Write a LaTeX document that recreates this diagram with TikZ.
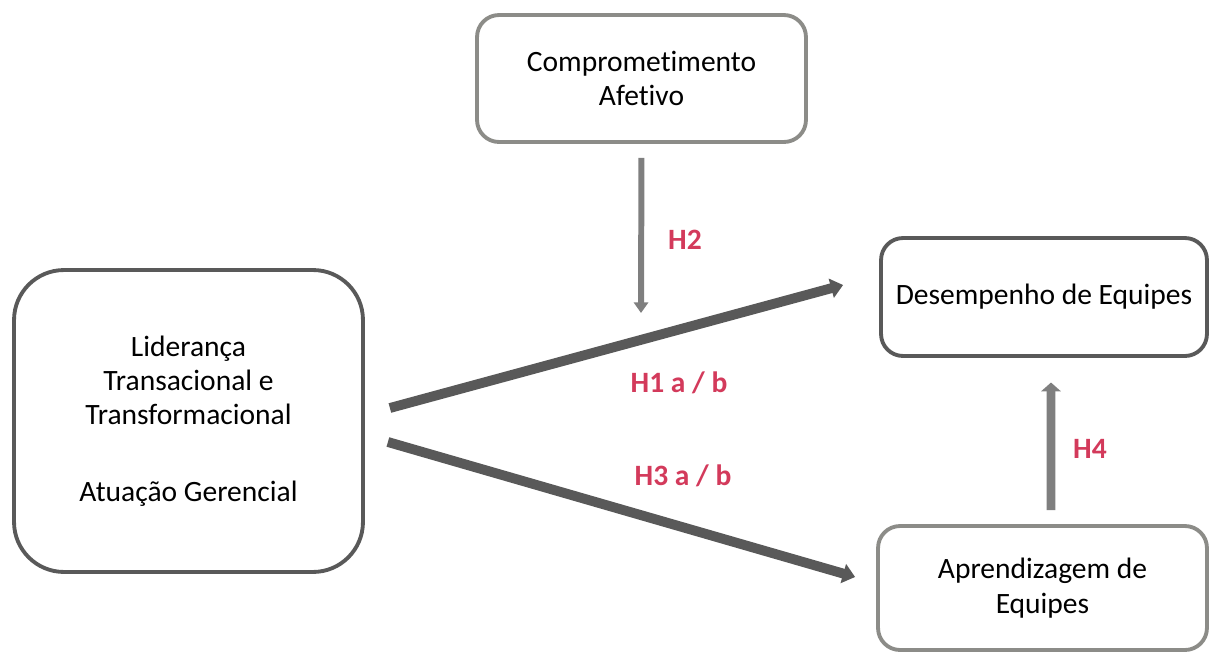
\documentclass[tikz,border=0pt]{standalone}
\usepackage{fontspec}
\setmainfont{Carlito}[Ligatures=NoCommon]
\usetikzlibrary{arrows.meta,calc}
\definecolor{darkline}{HTML}{595959}
\definecolor{midline}{HTML}{7F7F7F}
\definecolor{lightline}{HTML}{8C8C88}
\definecolor{hypred}{HTML}{D33A5B}

\tikzset{
  box/.style={draw,rounded corners=0.44cm,line width=2.2pt,align=center,
              font=\fontsize{16.8}{19.6}\selectfont},
  hyp/.style={text=hypred,font=\fontsize{16.8}{19}\selectfont\bfseries},
  thickarrow/.style={darkline,line width=5.6pt,
              -{Triangle[length=7pt 0,width=11pt 0]}},
  thinarrow/.style={midline,line width=3.4pt,
              -{Triangle[length=6pt 0,width=8pt 0]}},
}

\begin{document}
\begin{tikzpicture}[x=0.02cm,y=-0.02cm]
  \useasboundingbox (0,0) rectangle (1211,653);

  % boxes
  \node[box,lightline,text=black,minimum width=6.58cm,minimum height=2.54cm] (comp) at (641.5,78.5) {Comprometimento\\Afetivo};
  \node[box,darkline,text=black,minimum width=6.52cm,minimum height=2.36cm] (des) at (1044,297) {Desempenho de Equipes};
  \node[box,lightline,text=black,minimum width=6.58cm,minimum height=2.48cm] (apr) at (1042.5,588) {Aprendizagem de\\Equipes};
  \node[box,darkline,text=black,rounded corners=1cm,minimum width=6.98cm,minimum height=6.04cm] (lid) at (188.5,421)
    {Liderança\\Transacional e\\Transformacional\\[24pt]Atuação Gerencial};

  % free ends of the connectors
  \coordinate (h1s) at ($(lid.east)+(25,-13)$);
  \coordinate (h1e) at ($(des.west)+(-36,-12)$);
  \coordinate (h3s) at ($(lid.east)+(23,21)$);
  \coordinate (h3e) at ($(apr.west)+(-21,-11)$);
  \coordinate (h2e) at (641,313);

  % connectors
  \draw[thickarrow] (h1s) -- (h1e);
  \draw[thickarrow] (h3s) -- (h3e);
  \draw[thinarrow,shorten <=8pt] (comp.south) -- (h2e);
  \draw[midline,line width=5pt,-{Triangle[length=5pt 0,width=11pt 0]},shorten <=8pt,shorten >=14pt]
    ($(apr.north)+(8.5,0)$) -- ($(des.south)+(7,0)$);

  % labels
  \node[hyp] (l2) at (685,240) {H2};
  \node[hyp] (l1) at (679,383) {H1 a / b};
  \node[hyp] (l3) at (683,476) {H3 a / b};
  \node[hyp] (l4) at (1090,449) {H4};
\end{tikzpicture}
\end{document}
